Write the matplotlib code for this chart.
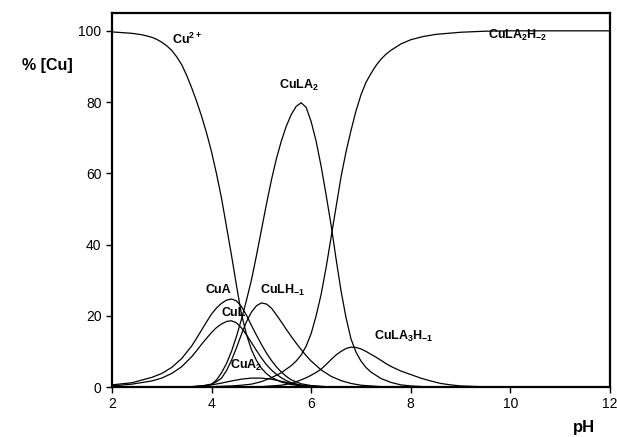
import matplotlib
matplotlib.use("Agg")
import matplotlib.pyplot as plt

plt.rcParams['font.family'] = ['Liberation Sans', 'DejaVu Sans']
plt.rcParams['mathtext.fontset'] = 'custom'
plt.rcParams['mathtext.rm'] = 'Liberation Sans:bold'
plt.rcParams['mathtext.bf'] = 'Liberation Sans:bold'
plt.rcParams['mathtext.default'] = 'bf'

# species distribution (pH, % Cu)
ph_cu = [2.0, 2.2, 2.4, 2.6, 2.8, 2.9, 3.0, 3.1, 3.2, 3.3, 3.4, 3.5, 3.6, 3.7, 3.8, 3.9, 4.0, 4.1, 4.2,
         4.3, 4.4, 4.5, 4.6, 4.7, 4.8, 4.9, 5.0, 5.1, 5.2, 5.4, 5.6, 5.8, 6.0, 6.4, 12.0]
cu = [99.7, 99.5, 99.3, 98.9, 98.2, 97.6, 96.8, 95.8, 94.5, 92.7, 90.5, 87.5, 84.0, 80.2, 76.0, 71.3, 66.0, 59.8, 53.0,
      45.0, 37.0, 28.5, 20.5, 14.8, 10.5, 7.5, 5.3, 3.8, 2.7, 1.4, 0.7, 0.3, 0.1, 0.0, 0.0]

ph_cua = [2.0, 2.4, 2.8, 3.0, 3.2, 3.4, 3.6, 3.7, 3.8, 3.9, 4.0, 4.1, 4.2, 4.3, 4.4, 4.5, 4.6, 4.7, 4.8,
          4.9, 5.0, 5.1, 5.2, 5.3, 5.4, 5.5, 5.6, 5.8, 6.0, 6.4, 12.0]
cua = [0.6, 1.2, 2.7, 3.8, 5.5, 8.0, 11.5, 13.7, 16.0, 18.3, 20.5, 22.2, 23.5, 24.4, 24.7, 24.2, 22.6, 20.2, 17.3,
       14.6, 12.0, 9.6, 7.5, 5.7, 4.2, 3.0, 2.0, 0.9, 0.4, 0.0, 0.0]

ph_cul = [2.0, 2.4, 2.8, 3.0, 3.2, 3.4, 3.6, 3.7, 3.8, 3.9, 4.0, 4.1, 4.2, 4.3, 4.4, 4.5, 4.6, 4.7, 4.8,
          4.9, 5.0, 5.1, 5.2, 5.3, 5.4, 5.5, 5.6, 5.8, 6.0, 6.4, 12.0]
cul = [0.3, 0.8, 1.7, 2.5, 3.8, 5.7, 8.5, 10.2, 12.0, 13.7, 15.3, 16.7, 17.7, 18.4, 18.6, 18.0, 16.6, 14.7, 12.5,
       10.3, 8.2, 6.3, 4.8, 3.6, 2.6, 1.8, 1.2, 0.5, 0.2, 0.0, 0.0]

ph_cua2 = [2.0, 3.6, 3.8, 4.0, 4.2, 4.4, 4.6, 4.8, 5.0, 5.2, 5.4, 5.6, 5.8, 6.0, 6.4, 12.0]
cua2 = [0.0, 0.1, 0.3, 0.6, 1.1, 1.7, 2.2, 2.5, 2.5, 2.2, 1.6, 1.0, 0.5, 0.2, 0.0, 0.0]

ph_culh = [2.0, 3.6, 3.8, 3.9, 4.0, 4.1, 4.2, 4.3, 4.4, 4.5, 4.6, 4.7, 4.8, 4.9, 5.0, 5.1, 5.2, 5.3, 5.4,
           5.5, 5.6, 5.7, 5.8, 5.9, 6.0, 6.2, 6.4, 6.6, 6.8, 7.0, 7.4, 7.8, 12.0]
culh = [0.0, 0.05, 0.2, 0.4, 0.8, 1.5, 2.5, 4.6, 7.5, 11.0, 14.8, 18.3, 21.0, 22.8, 23.6, 23.3, 22.2, 20.3, 18.3,
        16.2, 14.2, 12.3, 10.5, 8.8, 7.3, 4.8, 3.0, 1.8, 1.0, 0.5, 0.1, 0.0, 0.0]

ph_cula2 = [2.0, 3.6, 3.8, 4.0, 4.1, 4.2, 4.3, 4.4, 4.5, 4.6, 4.7, 4.8, 4.9, 5.0, 5.1, 5.2, 5.3, 5.4, 5.5,
            5.6, 5.7, 5.8, 5.9, 6.0, 6.1, 6.2, 6.3, 6.4, 6.5, 6.6, 6.7, 6.8, 6.9, 7.0, 7.1, 7.2, 7.4,
            7.6, 7.8, 8.0, 8.4, 12.0]
cula2 = [0.0, 0.1, 0.3, 0.8, 2.0, 4.0, 6.6, 10.0, 14.2, 19.0, 24.3, 30.0, 36.8, 44.0, 51.2, 58.0, 64.0, 69.0, 73.2,
         76.5, 78.8, 79.8, 78.5, 74.5, 69.0, 62.0, 54.0, 45.5, 36.0, 27.0, 19.5, 13.5, 9.8, 7.3, 5.5, 4.2, 2.4,
         1.3, 0.6, 0.3, 0.0, 0.0]

ph_cula3h = [2.0, 5.0, 5.4, 5.6, 5.8, 5.9, 6.0, 6.1, 6.2, 6.3, 6.4, 6.5, 6.6, 6.7, 6.8, 6.9, 7.0, 7.1, 7.2,
             7.3, 7.4, 7.5, 7.6, 7.8, 8.0, 8.2, 8.4, 8.6, 8.8, 9.0, 9.4, 9.8, 12.0]
cula3h = [0.0, 0.1, 0.5, 1.0, 2.0, 2.6, 3.3, 4.1, 5.0, 6.3, 7.7, 9.0, 10.0, 10.8, 11.2, 11.1, 10.7, 10.0, 9.2,
          8.4, 7.5, 6.6, 5.8, 4.5, 3.5, 2.5, 1.7, 1.0, 0.6, 0.3, 0.1, 0.0, 0.0]

ph_cula2h2 = [2.0, 4.0, 4.4, 4.6, 4.8, 5.0, 5.2, 5.4, 5.6, 5.7, 5.8, 5.9, 6.0, 6.1, 6.2, 6.3, 6.4, 6.5, 6.6,
              6.7, 6.8, 6.9, 7.0, 7.1, 7.2, 7.3, 7.4, 7.5, 7.6, 7.8, 8.0, 8.25, 8.5, 9.0, 9.5, 10.0, 12.0]
cula2h2 = [0.0, 0.1, 0.3, 0.5, 0.8, 1.5, 2.6, 4.0, 6.0, 7.3, 9.0, 11.5, 15.0, 20.0, 26.0, 33.5, 42.0, 50.5, 59.0,
           66.0, 72.0, 77.5, 82.0, 85.5, 88.0, 90.2, 92.0, 93.4, 94.5, 96.3, 97.5, 98.4, 99.0, 99.6, 99.9, 100.0, 100.0]

curves = [(ph_cu, cu), (ph_cua, cua), (ph_cul, cul), (ph_cua2, cua2), (ph_culh, culh),
          (ph_cula2, cula2), (ph_cula3h, cula3h), (ph_cula2h2, cula2h2)]

# label text and where it sits (pH, %)
labels = [('Cu$^{2+}$', 3.2, 95.5), ('CuLA$_2$', 5.35, 82.5), ('CuLA$_2$H$_{-2}$', 9.55, 96.5),
          ('CuA', 3.88, 25.5), ('CuL', 4.2, 19.0), ('CuLH$_{-1}$', 4.98, 25.0),
          ('CuA$_2$', 4.38, 3.8), ('CuLA$_3$H$_{-1}$', 7.26, 12.0)]

fig = plt.figure(figsize=(6.17, 4.37), dpi=100)
ax = fig.add_axes([0.1815, 0.1144, 0.807, 0.8558])

for x, y in curves:
    ax.plot(x, y, color='black', lw=0.9)

for txt, x, y in labels:
    ax.text(x, y, txt, fontsize=9, fontweight='bold', ha='left', va='bottom')

ax.set_xlim(2, 12)
ax.set_ylim(0, 105)
ax.set_xticks([2, 4, 6, 8, 10, 12])
ax.set_yticks([0, 20, 40, 60, 80, 100])
ax.tick_params(direction='out', length=4, width=1, labelsize=10)
for s in ax.spines.values():
    s.set_linewidth(1.6)

fig.text(0.036, 0.85, '% [Cu]', fontsize=11.5, fontweight='bold', ha='left', va='center')
fig.text(0.965, 0.005, 'pH', fontsize=12, fontweight='bold', ha='right', va='bottom')

fig.savefig('out.png', dpi=100)
